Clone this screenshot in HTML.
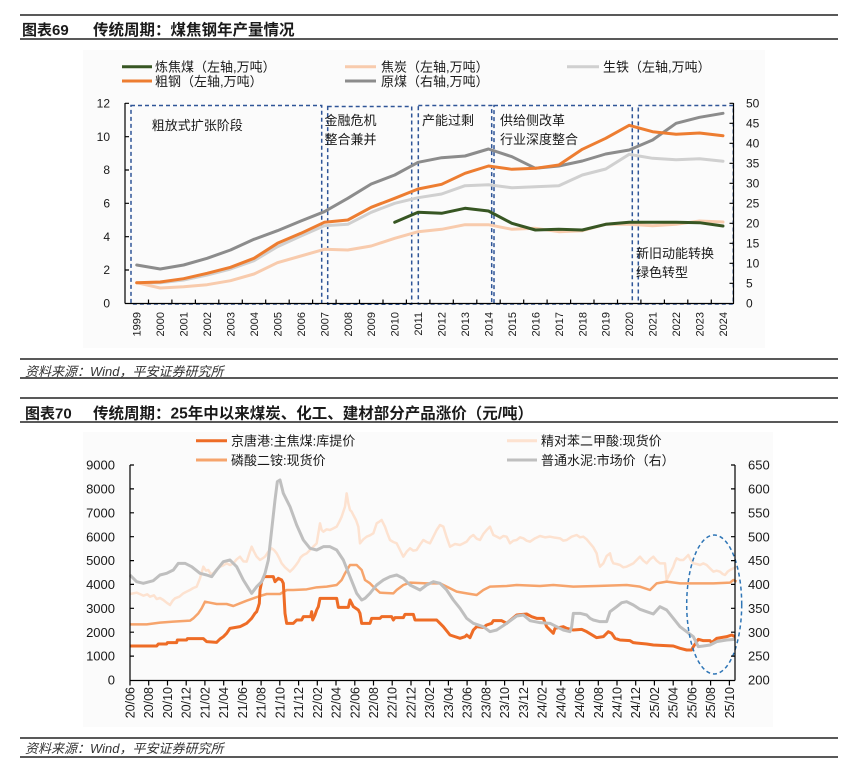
<!DOCTYPE html>
<html><head><meta charset="utf-8"><style>
html,body{margin:0;padding:0;background:#fff;}
svg{display:block;}
text{font-family:"Liberation Sans","Noto Sans CJK SC",sans-serif;fill:#1a1a1a;}
</style></head><body>
<svg width="865" height="779" viewBox="0 0 865 779" xmlns="http://www.w3.org/2000/svg">
<rect width="865" height="779" fill="#fff"/>
<!-- Header 69 -->
<line x1="20" y1="15" x2="838" y2="15" stroke="#222" stroke-width="1.5"/>
<line x1="20" y1="39" x2="838" y2="39" stroke="#222" stroke-width="1.5"/>
<text x="22" y="35" font-size="15" font-weight="bold">图表69</text>
<text x="93" y="35" font-size="15.5" font-weight="bold">传统周期：煤焦钢年产量情况</text>

<!-- top chart bg -->
<rect x="83" y="50" width="682" height="298" fill="#fbfbfb"/>

<!-- top legend -->
<g stroke-width="3">
<line x1="122" y1="66.7" x2="152" y2="66.7" stroke="#375623"/>
<line x1="345" y1="66.7" x2="376" y2="66.7" stroke="#f8cbad"/>
<line x1="567" y1="66.7" x2="599" y2="66.7" stroke="#d0d0d0"/>
<line x1="122" y1="81" x2="152" y2="81" stroke="#ed7d31"/>
<line x1="345" y1="81" x2="376" y2="81" stroke="#8c8c8c"/>
</g>
<g font-size="13">
<text x="155" y="71.5">炼焦煤（左轴,万吨）</text>
<text x="381" y="71.5">焦炭（左轴,万吨）</text>
<text x="603" y="71.5">生铁（左轴,万吨）</text>
<text x="155" y="85.8">粗钢（左轴,万吨）</text>
<text x="381" y="85.8">原煤（右轴,万吨）</text>
</g>

<!-- dashed boxes -->
<g fill="none" stroke="#2f5597" stroke-width="1.5" stroke-dasharray="4 3">
<rect x="131" y="105.5" width="190.7" height="198.5"/>
<rect x="327.7" y="106.5" width="84" height="197.8"/>
<rect x="418.3" y="105.5" width="73.4" height="198.5"/>
<rect x="494" y="105.5" width="138.3" height="198.5"/>
<rect x="638.3" y="105.5" width="95" height="198.5"/>
</g>
<g font-size="13">
<text x="151.7" y="129.8">粗放式扩张阶段</text>
<text x="324.5" y="124.8">金融危机</text>
<text x="324.5" y="143.8">整合兼并</text>
<text x="422" y="124.8">产能过剩</text>
<text x="500" y="124.8">供给侧改革</text>
<text x="500" y="143.8">行业深度整合</text>
<text x="636" y="257.8">新旧动能转换</text>
<text x="636" y="276.8">绿色转型</text>
</g>

<!-- top series -->
<g fill="none" stroke-width="3" stroke-linejoin="round" stroke-linecap="round">
<polyline stroke="#8c8c8c" points="136.7,265 160.2,269 183.6,265 207.1,258.3 230.5,250 254.0,239.3 277.4,230.7 300.9,221 324.3,211.7 347.8,198.3 371.2,184 394.7,175 418.1,162.3 441.6,157.7 465.0,156 488.5,149 511.9,156.7 535.4,168.3 558.8,166 582.3,161 605.7,154 629.2,150 652.6,140 676.1,123.3 699.5,117.3 723.0,113.3"/>
<polyline stroke="#d0d0d0" points="136.7,282.7 160.2,282.7 183.6,280 207.1,275 230.5,269 254.0,260.7 277.4,246.7 300.9,236 324.3,225.7 347.8,224.3 371.2,212.3 394.7,203.3 418.1,197.7 441.6,194 465.0,185.7 488.5,184.7 511.9,187.7 535.4,186.7 558.8,185.7 582.3,175 605.7,169 629.2,154.3 652.6,158.3 676.1,159.7 699.5,158.7 723.0,161.3"/>
<polyline stroke="#f8cbad" points="136.7,282.7 160.2,288 183.6,286.7 207.1,284.7 230.5,280.7 254.0,274 277.4,262.7 300.9,256 324.3,249.3 347.8,250 371.2,246 394.7,238.3 418.1,231.7 441.6,229.3 465.0,224.7 488.5,224.7 511.9,229.3 535.4,228.3 558.8,231.7 582.3,230.7 605.7,224.3 629.2,224.3 652.6,225.7 676.1,224.3 699.5,221 723.0,222"/>
<polyline stroke="#ed7d31" points="136.7,282.7 160.2,282 183.6,278.7 207.1,273.3 230.5,267.3 254.0,258.3 277.4,243.3 300.9,233.3 324.3,222.3 347.8,220 371.2,207.3 394.7,198.3 418.1,189 441.6,184.3 465.0,173.3 488.5,166 511.9,169.3 535.4,168.3 558.8,165 582.3,149.3 605.7,138.3 629.2,125.3 652.6,131.7 676.1,134.3 699.5,133 723.0,135.7"/>
<polyline stroke="#375623" points="394.7,222.3 418.1,212.3 441.6,213.3 465.0,208.3 488.5,211 511.9,223.3 535.4,230 558.8,229.3 582.3,230 605.7,224.3 629.2,222.3 652.6,222.3 676.1,222.3 699.5,222.7 723.0,226"/>
</g>

<!-- top axes -->
<g stroke="#000" stroke-width="1.2" fill="none">
<line x1="125" y1="103" x2="125" y2="303.5"/>
<line x1="733.5" y1="103" x2="733.5" y2="303.5"/>
<line x1="125" y1="303.5" x2="734" y2="303.5"/>
<path d="M125 103.3h4M125 136.7h4M125 170h4M125 203.3h4M125 236.7h4M125 270h4
M733.5 103.3h-4M733.5 123.3h-4M733.5 143.3h-4M733.5 163.3h-4M733.5 183.3h-4M733.5 203.3h-4M733.5 223.3h-4M733.5 243.3h-4M733.5 263.3h-4M733.5 283.3h-4"/>
<path d="M148.5 303.5v-4M171.9 303.5v-4M195.4 303.5v-4M218.8 303.5v-4M242.3 303.5v-4M265.7 303.5v-4M289.2 303.5v-4M312.6 303.5v-4M336.1 303.5v-4M359.5 303.5v-4M383 303.5v-4M406.4 303.5v-4M429.9 303.5v-4M453.3 303.5v-4M476.8 303.5v-4M500.2 303.5v-4M523.7 303.5v-4M547.1 303.5v-4M570.6 303.5v-4M594 303.5v-4M617.5 303.5v-4M640.9 303.5v-4M664.4 303.5v-4M687.8 303.5v-4M711.3 303.5v-4"/>
</g>
<g font-size="12" text-anchor="end">
<text x="110" y="107.5">12</text>
<text x="110" y="140.9">10</text>
<text x="110" y="174.2">8</text>
<text x="110" y="207.5">6</text>
<text x="110" y="240.9">4</text>
<text x="110" y="274.2">2</text>
<text x="110" y="307.5">0</text>
</g>
<g font-size="12">
<text x="746" y="107.5">50</text>
<text x="746" y="127.5">45</text>
<text x="746" y="147.5">40</text>
<text x="746" y="167.5">35</text>
<text x="746" y="187.5">30</text>
<text x="746" y="207.5">25</text>
<text x="746" y="227.5">20</text>
<text x="746" y="247.5">15</text>
<text x="746" y="267.5">10</text>
<text x="746" y="287.5">5</text>
<text x="746" y="307.5">0</text>
</g>
<g font-size="11" text-anchor="end">
<text transform="translate(140.7 312) rotate(-90)">1999</text>
<text transform="translate(164.2 312) rotate(-90)">2000</text>
<text transform="translate(187.6 312) rotate(-90)">2001</text>
<text transform="translate(211.1 312) rotate(-90)">2002</text>
<text transform="translate(234.5 312) rotate(-90)">2003</text>
<text transform="translate(258.0 312) rotate(-90)">2004</text>
<text transform="translate(281.4 312) rotate(-90)">2005</text>
<text transform="translate(304.9 312) rotate(-90)">2006</text>
<text transform="translate(328.3 312) rotate(-90)">2007</text>
<text transform="translate(351.8 312) rotate(-90)">2008</text>
<text transform="translate(375.2 312) rotate(-90)">2009</text>
<text transform="translate(398.7 312) rotate(-90)">2010</text>
<text transform="translate(422.1 312) rotate(-90)">2011</text>
<text transform="translate(445.6 312) rotate(-90)">2012</text>
<text transform="translate(469.0 312) rotate(-90)">2013</text>
<text transform="translate(492.5 312) rotate(-90)">2014</text>
<text transform="translate(515.9 312) rotate(-90)">2015</text>
<text transform="translate(539.4 312) rotate(-90)">2016</text>
<text transform="translate(562.8 312) rotate(-90)">2017</text>
<text transform="translate(586.3 312) rotate(-90)">2018</text>
<text transform="translate(609.7 312) rotate(-90)">2019</text>
<text transform="translate(633.2 312) rotate(-90)">2020</text>
<text transform="translate(656.6 312) rotate(-90)">2021</text>
<text transform="translate(680.1 312) rotate(-90)">2022</text>
<text transform="translate(703.5 312) rotate(-90)">2023</text>
<text transform="translate(727.0 312) rotate(-90)">2024</text>
</g>

<!-- source 1 -->
<line x1="20" y1="359" x2="838" y2="359" stroke="#222" stroke-width="1.5"/>
<text x="25" y="375.8" font-size="13" font-style="italic" style="fill:#333">资料来源：Wind，平安证券研究所</text>
<line x1="20" y1="378" x2="838" y2="378" stroke="#222" stroke-width="1.5"/>

<!-- Header 70 -->
<line x1="20" y1="398" x2="838" y2="398" stroke="#222" stroke-width="1.5"/>
<line x1="20" y1="422" x2="838" y2="422" stroke="#222" stroke-width="1.5"/>
<text x="25" y="418.6" font-size="15" font-weight="bold">图表70</text>
<text x="93" y="418.6" font-size="15.5" font-weight="bold">传统周期：25年中以来煤炭、化工、建材部分产品涨价（元/吨）</text>

<!-- bottom chart bg -->
<rect x="83" y="432" width="690" height="295" fill="#fbfbfb"/>

<!-- bottom legend -->
<g stroke-width="3">
<line x1="196" y1="440.7" x2="227" y2="440.7" stroke="#ee6c26"/>
<line x1="507" y1="440.7" x2="537" y2="440.7" stroke="#fde2d0"/>
<line x1="196" y1="460" x2="227" y2="460" stroke="#f6a46c"/>
<line x1="507" y1="460" x2="537" y2="460" stroke="#bfbfbf"/>
</g>
<g font-size="13">
<text x="231" y="445.5">京唐港:主焦煤:库提价</text>
<text x="541" y="445.5">精对苯二甲酸:现货价</text>
<text x="231" y="464.8">磷酸二铵:现货价</text>
<text x="541" y="464.8">普通水泥:市场价（右）</text>
</g>

<!-- bottom series -->
<g transform="translate(60 450) scale(0.333333)" fill="none" stroke-linejoin="round">
<polyline vector-effect="non-scaling-stroke" stroke="#fde2d0" stroke-width="2.5" points="210,432 230,428 250,437 262,433 270,440 282,436 290,447 300,444 310,450 320,458 330,465 338,452 345,445 358,440 370,430 380,425 390,420 400,414 410,410 420,385 430,350 438,362 445,360 452,372 460,370 470,358 480,350 490,346 500,340 510,345 520,340 530,328 540,320 550,334 560,335 568,310 575,290 582,305 590,320 600,330 608,325 615,320 625,305 635,295 642,300 650,310 658,325 665,340 675,352 690,365 700,355 708,345 715,335 722,322 730,315 740,310 750,300 760,290 770,280 775,250 780,220 785,240 790,245 800,238 810,240 820,235 830,230 838,215 845,200 850,185 855,170 860,130 865,160 870,180 875,185 880,195 888,210 895,230 900,280 910,268 920,260 930,256 940,250 945,235 950,220 958,215 965,210 975,230 982,250 990,270 1000,276 1010,280 1020,300 1030,320 1040,305 1050,295 1060,302 1070,300 1080,284 1090,270 1100,276 1110,280 1120,260 1130,240 1140,225 1150,230 1160,262 1170,290 1185,282 1200,285 1210,280 1220,275 1230,262 1240,255 1250,266 1260,270 1270,252 1280,240 1290,230 1300,255 1310,260 1320,265 1330,258 1340,260 1350,280 1360,272 1370,270 1380,262 1390,265 1400,272 1410,275 1425,265 1440,258 1455,262 1470,260 1485,263 1500,265 1510,272 1520,270 1535,260 1550,255 1560,262 1570,260 1580,268 1590,280 1600,292 1610,310 1615,335 1620,350 1630,340 1640,318 1650,310 1655,330 1660,340 1670,342 1680,345 1690,352 1700,350 1710,345 1720,340 1730,330 1740,320 1750,332 1760,340 1770,328 1780,320 1790,332 1800,340 1815,340 1820,390 1825,380 1830,370 1840,350 1845,335 1850,325 1860,330 1870,330 1878,322 1885,315 1892,330 1900,340 1910,342 1920,345 1930,340 1940,345 1950,355 1960,365 1970,362 1980,365 1988,372 1995,375 2003,365 2010,360 2020,355 2030,350"/>
<polyline vector-effect="non-scaling-stroke" stroke="#f6a46c" stroke-width="2.5" points="210,523 260,523 300,518 340,515 390,512 400,505 415,490 425,475 435,455 450,458 470,462 500,462 520,468 540,460 560,452 580,445 600,438 620,432 660,432 680,420 700,420 740,418 770,412 800,410 830,405 845,390 855,370 870,345 890,345 905,360 915,390 930,400 945,415 960,428 1000,430 1010,420 1030,405 1050,398 1100,400 1140,400 1160,410 1190,425 1220,430 1250,435 1270,420 1290,410 1340,408 1370,405 1440,408 1480,405 1540,410 1610,408 1700,405 1740,410 1770,420 1790,400 1820,395 1860,400 1960,400 2010,398 2020,390 2030,395"/>
<polyline vector-effect="non-scaling-stroke" stroke="#ee6c26" stroke-width="3" points="210,588 290,588 295,582 320,582 322,578 350,578 352,570 380,570 382,566 430,566 440,575 470,577 480,567 490,560 500,550 510,535 540,530 550,525 560,520 570,510 575,505 585,490 590,485 595,470 598,460 600,420 605,395 612,380 640,380 645,395 655,385 665,390 670,400 675,490 680,520 700,520 710,510 725,510 730,500 752,500 755,485 758,510 765,495 770,480 775,470 780,445 830,445 835,472 865,472 870,450 875,460 880,470 895,480 900,490 905,520 930,520 935,505 960,505 965,500 995,500 1000,510 1005,503 1030,503 1035,493 1060,493 1065,510 1130,510 1140,520 1150,530 1170,555 1200,565 1215,560 1220,555 1230,563 1240,540 1250,530 1270,532 1280,525 1295,520 1300,512 1325,512 1340,520 1370,495 1400,492 1415,500 1430,505 1450,505 1460,530 1480,550 1485,535 1510,530 1520,535 1540,540 1565,538 1580,545 1610,563 1630,560 1645,545 1655,550 1665,565 1680,570 1710,572 1720,578 1760,582 1780,585 1840,588 1860,595 1880,600 1895,600 1900,590 1915,568 1930,572 1950,572 1955,578 1970,565 2000,560 2015,555 2025,560"/>
<polyline vector-effect="non-scaling-stroke" stroke="#bfbfbf" stroke-width="3" points="210,375 230,395 250,400 280,392 300,375 320,370 340,360 355,340 375,340 395,350 420,370 440,375 455,380 470,360 490,335 510,330 530,350 550,390 575,430 590,410 605,395 615,370 625,330 635,240 645,150 652,95 660,90 670,130 690,170 710,225 730,270 750,295 770,300 790,290 810,290 830,300 850,330 870,380 890,430 905,450 915,445 930,430 950,405 970,390 990,380 1010,375 1030,385 1050,405 1080,420 1100,405 1120,395 1140,400 1160,420 1180,450 1200,475 1220,505 1240,520 1270,530 1290,545 1310,540 1340,520 1370,498 1390,495 1410,512 1440,518 1470,520 1490,530 1510,540 1530,545 1535,530 1540,490 1560,490 1580,495 1590,505 1600,510 1620,515 1640,515 1650,485 1670,470 1685,458 1700,455 1720,465 1740,478 1760,485 1780,492 1800,470 1820,480 1840,505 1860,530 1880,545 1900,560 1915,590 1930,588 1950,585 1970,575 2000,570 2025,568"/>
</g>

<!-- ellipse -->
<ellipse cx="714.2" cy="604.5" rx="27.5" ry="69.5" fill="none" stroke="#2e75b6" stroke-width="1.5" stroke-dasharray="4 3"/>

<!-- bottom axes -->
<g stroke="#000" stroke-width="1.2" fill="none">
<line x1="130" y1="465" x2="130" y2="680.5"/>
<line x1="735" y1="465" x2="735" y2="680.5"/>
<line x1="130" y1="680.5" x2="735" y2="680.5"/>
<path d="M130 465h4M130 488.9h4M130 512.8h4M130 536.7h4M130 560.6h4M130 584.4h4M130 608.3h4M130 632.2h4M130 656.1h4
M735 465h-4M735 488.9h-4M735 512.8h-4M735 536.7h-4M735 560.6h-4M735 584.4h-4M735 608.3h-4M735 632.2h-4M735 656.1h-4"/>
<path d="M130 680.5v5M148.7 680.5v5M167.5 680.5v5M186.2 680.5v5M204.9 680.5v5M223.7 680.5v5M242.4 680.5v5M261.1 680.5v5M279.8 680.5v5M298.6 680.5v5M317.3 680.5v5M336 680.5v5M354.8 680.5v5M373.5 680.5v5M392.2 680.5v5M411 680.5v5M429.7 680.5v5M448.4 680.5v5M467.1 680.5v5M485.9 680.5v5M504.6 680.5v5M523.3 680.5v5M542.1 680.5v5M560.8 680.5v5M579.5 680.5v5M598.3 680.5v5M617 680.5v5M635.7 680.5v5M654.4 680.5v5M673.2 680.5v5M691.9 680.5v5M710.6 680.5v5M729.4 680.5v5"/>
</g>
<g font-size="13" text-anchor="end">
<text x="115" y="469.6">9000</text>
<text x="115" y="493.5">8000</text>
<text x="115" y="517.4">7000</text>
<text x="115" y="541.3">6000</text>
<text x="115" y="565.2">5000</text>
<text x="115" y="589">4000</text>
<text x="115" y="612.9">3000</text>
<text x="115" y="636.8">2000</text>
<text x="115" y="660.7">1000</text>
<text x="115" y="684.6">0</text>
</g>
<g font-size="13">
<text x="748" y="469.6">650</text>
<text x="748" y="493.5">600</text>
<text x="748" y="517.4">550</text>
<text x="748" y="541.3">500</text>
<text x="748" y="565.2">450</text>
<text x="748" y="589">400</text>
<text x="748" y="612.9">350</text>
<text x="748" y="636.8">300</text>
<text x="748" y="660.7">250</text>
<text x="748" y="684.6">200</text>
</g>
<g font-size="12.5" text-anchor="end">
<text transform="translate(134.5 687) rotate(-90)">20/06</text>
<text transform="translate(153.2 687) rotate(-90)">20/08</text>
<text transform="translate(172 687) rotate(-90)">20/10</text>
<text transform="translate(190.7 687) rotate(-90)">20/12</text>
<text transform="translate(209.4 687) rotate(-90)">21/02</text>
<text transform="translate(228.2 687) rotate(-90)">21/04</text>
<text transform="translate(246.9 687) rotate(-90)">21/06</text>
<text transform="translate(265.6 687) rotate(-90)">21/08</text>
<text transform="translate(284.3 687) rotate(-90)">21/10</text>
<text transform="translate(303.1 687) rotate(-90)">21/12</text>
<text transform="translate(321.8 687) rotate(-90)">22/02</text>
<text transform="translate(340.5 687) rotate(-90)">22/04</text>
<text transform="translate(359.3 687) rotate(-90)">22/06</text>
<text transform="translate(378 687) rotate(-90)">22/08</text>
<text transform="translate(396.7 687) rotate(-90)">22/10</text>
<text transform="translate(415.5 687) rotate(-90)">22/12</text>
<text transform="translate(434.2 687) rotate(-90)">23/02</text>
<text transform="translate(452.9 687) rotate(-90)">23/04</text>
<text transform="translate(471.6 687) rotate(-90)">23/06</text>
<text transform="translate(490.4 687) rotate(-90)">23/08</text>
<text transform="translate(509.1 687) rotate(-90)">23/10</text>
<text transform="translate(527.8 687) rotate(-90)">23/12</text>
<text transform="translate(546.6 687) rotate(-90)">24/02</text>
<text transform="translate(565.3 687) rotate(-90)">24/04</text>
<text transform="translate(584 687) rotate(-90)">24/06</text>
<text transform="translate(602.8 687) rotate(-90)">24/08</text>
<text transform="translate(621.5 687) rotate(-90)">24/10</text>
<text transform="translate(640.2 687) rotate(-90)">24/12</text>
<text transform="translate(658.9 687) rotate(-90)">25/02</text>
<text transform="translate(677.7 687) rotate(-90)">25/04</text>
<text transform="translate(696.4 687) rotate(-90)">25/06</text>
<text transform="translate(715.1 687) rotate(-90)">25/08</text>
<text transform="translate(733.9 687) rotate(-90)">25/10</text>
</g>

<!-- source 2 -->
<line x1="20" y1="738" x2="838" y2="738" stroke="#222" stroke-width="1.5"/>
<text x="25" y="752.8" font-size="13" font-style="italic" style="fill:#333">资料来源：Wind，平安证券研究所</text>
<line x1="20" y1="757" x2="838" y2="757" stroke="#222" stroke-width="1.5"/>
</svg>
</body></html>
